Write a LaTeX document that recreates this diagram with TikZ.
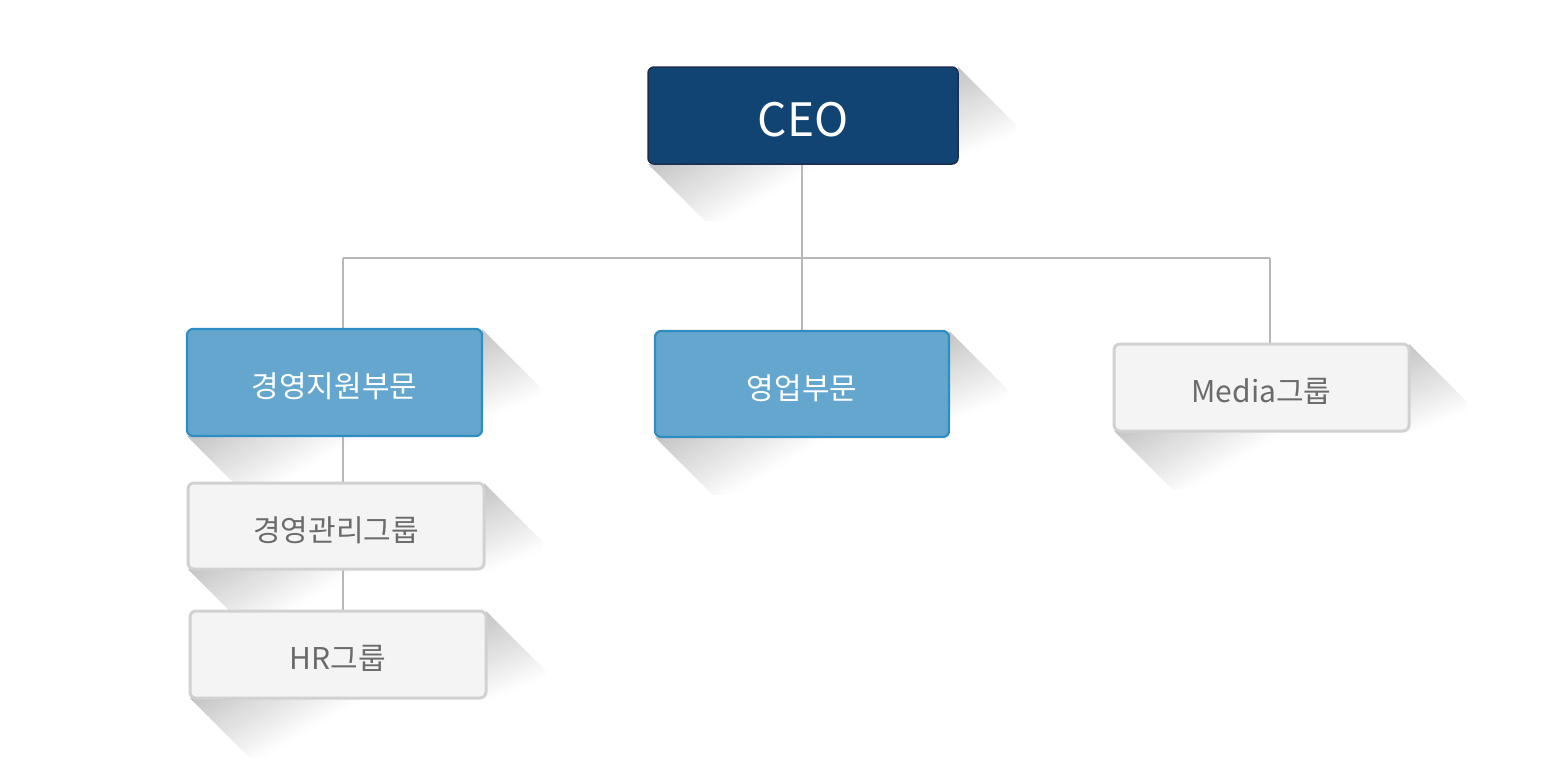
\documentclass[tikz,border=0pt]{standalone}
\usepackage{fontspec}
\setmainfont{Noto Sans CJK KR}
\usetikzlibrary{calc}
\definecolor{ceofill}{HTML}{114472}
\definecolor{ceodraw}{HTML}{1C2D50}
\definecolor{bluefill}{HTML}{64A6CD}
\definecolor{bluedraw}{HTML}{2E8DC2}
\definecolor{greyfill}{HTML}{F4F4F4}
\definecolor{greydraw}{HTML}{D3D0D3}
\definecolor{greytext}{HTML}{6B6B6B}
\definecolor{linec}{HTML}{B8B8B8}
\definecolor{shd}{HTML}{C4C4C4}
\pgfdeclarelayer{shadows}
\pgfdeclarelayer{lines}
\pgfsetlayers{shadows,lines,main}
\newcommand\boxtext[1]{\raisebox{\dimexpr-0.37em-4pt\relax}[0pt][0pt]{#1}}
\tikzset{
  basebox/.style={rectangle, rounded corners=6pt, outer sep=0pt, align=center},
  ceobox/.style={basebox, fill=ceofill, draw=ceodraw, line width=1.5pt, text=white, font=\fontsize{46}{52}\selectfont},
  bluebox/.style={basebox, fill=bluefill, draw=bluedraw, line width=2.2pt, text=white, font=\fontsize{30}{36}\selectfont},
  greybox/.style={basebox, fill=greyfill, draw=greydraw, line width=3pt, text=greytext, font=\fontsize{30}{36}\selectfont},
  conn/.style={draw=linec, line width=2pt},
  shadeband/.style={draw=none},
}
% #1 corner, #2 rotation angle, #3 fade length
\newcommand\gradbands[3]{%
  \begin{scope}[shift={(#1)}, rotate=#2]
  \foreach \i in {0,...,29}{%
    \pgfmathsetmacro\pct{100-100*\i/30}%
    \fill[shadeband, fill=shd!\pct!white] ({\i*#3/30},-1000) rectangle ({(\i+1)*#3/30+1.2},1000);
  }
  \end{scope}}
% #1 node, #2 shadow length
\newcommand\longshadow[2]{%
  \begin{pgfonlayer}{shadows}
  \begin{scope}
  \clip (#1.south west) -- (#1.south east) -- ($(#1.south east)+(#2,#2)$) -- ($(#1.south west)+(#2,#2)$) -- cycle;
  \gradbands{#1.south west}{-59}{88}
  \end{scope}
  \begin{scope}
  \clip (#1.north east) -- ($(#1.north east)+(#2,#2)$) -- ($(#1.south east)+(#2,#2)$) -- (#1.south east) -- cycle;
  \gradbands{#1.north east}{-67}{83}
  \end{scope}
  \end{pgfonlayer}}
\begin{document}
\begin{tikzpicture}[x=1pt, y=-1pt]
\useasboundingbox (0,0) rectangle (1556,772);
\node[ceobox, minimum width=310pt, minimum height=97pt] (ceo) at (803,115.5) {\boxtext{CEO}};
\node[bluebox, minimum width=295pt, minimum height=107pt] (mgmt) at (334.5,382.5) {\boxtext{경영지원부문}};
\node[bluebox, minimum width=294pt, minimum height=106pt] (sales) at (802,384) {\boxtext{영업부문}};
\node[greybox, minimum width=295pt, minimum height=87pt] (media) at (1261.5,387.5) {\boxtext{Media그룹}};
\node[greybox, minimum width=296pt, minimum height=86pt] (admin) at (336,526) {\boxtext{경영관리그룹}};
\node[greybox, minimum width=296pt, minimum height=87pt] (hr) at (338,654.5) {\boxtext{HR그룹}};
\longshadow{ceo}{57}
\longshadow{mgmt}{58}
\longshadow{sales}{58}
\longshadow{media}{58}
\longshadow{admin}{58}
\longshadow{hr}{60}
\coordinate (bus) at (802,258);
\coordinate (busl) at (343,258);
\coordinate (busr) at (1270,258);
\begin{pgfonlayer}{lines}
\draw[conn] (busl) -- (busr);
\draw[conn] (ceo.south -| bus) -- (bus) -- (sales.north -| bus);
\draw[conn] (busl) -- (mgmt.north -| busl);
\draw[conn] (busr) -- (media.north -| busr);
\draw[conn] (mgmt.south -| busl) -- (admin.north -| busl);
\draw[conn] (admin.south -| busl) -- (hr.north -| busl);
\end{pgfonlayer}
\end{tikzpicture}
\end{document}
